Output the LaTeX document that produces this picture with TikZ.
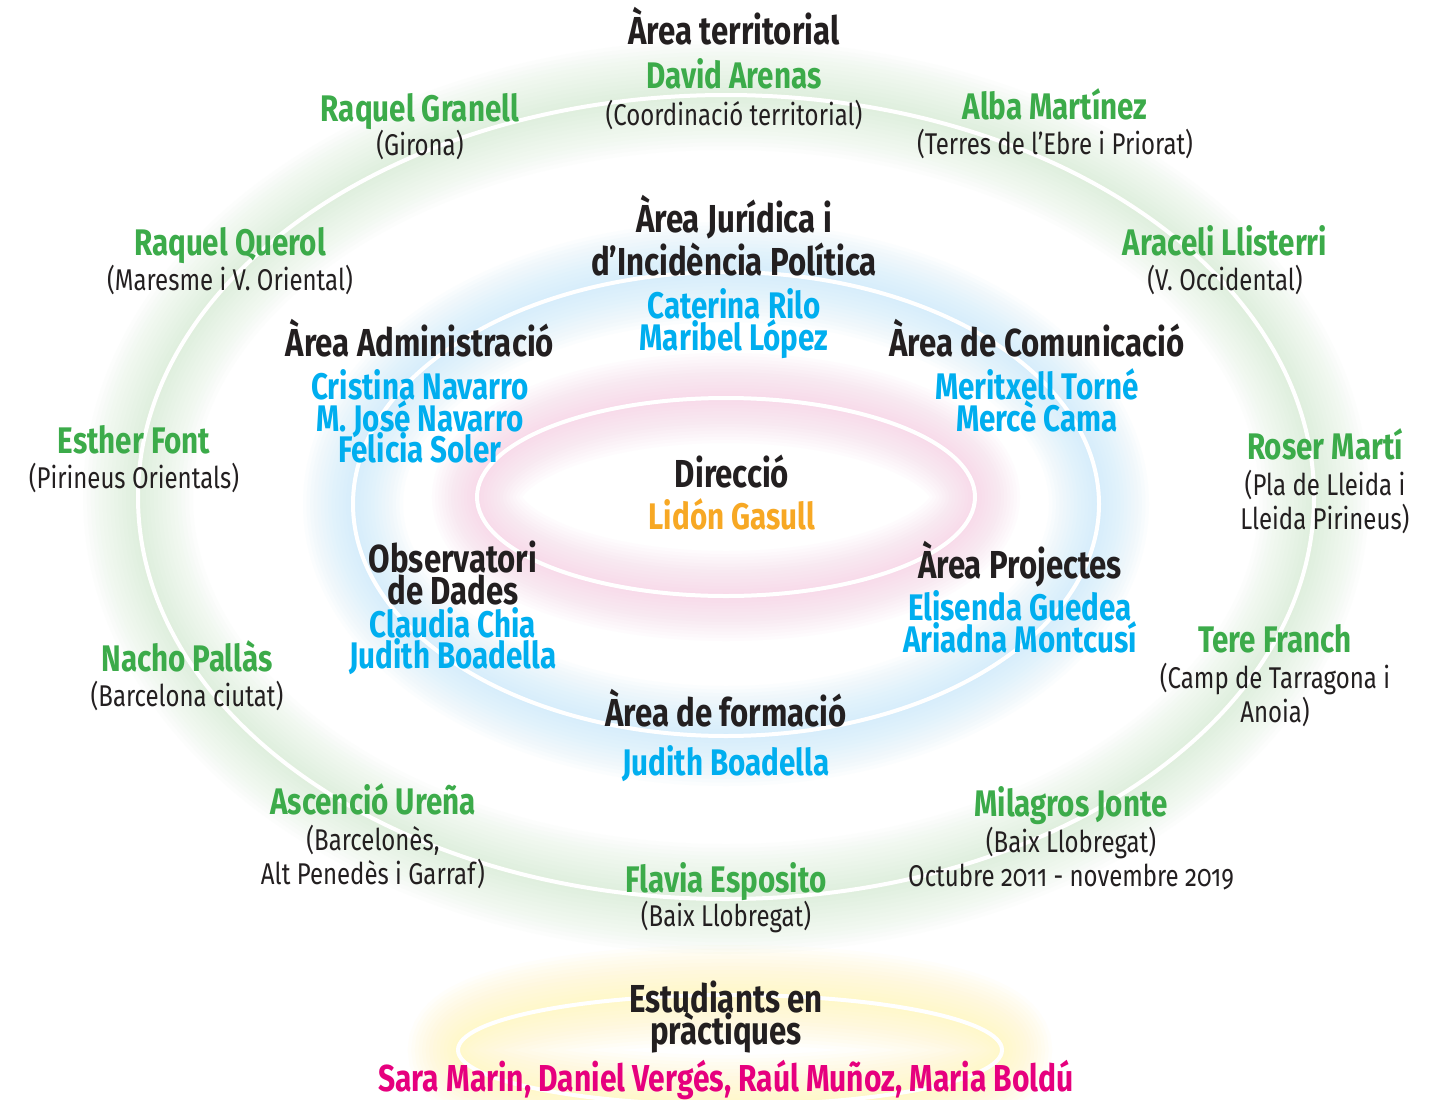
\documentclass[tikz,border=0pt]{standalone}
\usepackage{fontspec}
\setmainfont{Fira Sans}[FakeStretch=0.8, Numbers=OldStyle]
\definecolor{tgreen}{RGB}{60,171,74}
\definecolor{tblue}{RGB}{0,174,239}
\definecolor{torange}{RGB}{247,168,36}
\definecolor{tmag}{RGB}{230,0,126}
\definecolor{tblack}{RGB}{35,31,32}
\definecolor{gGreen}{RGB}{207,233,204}
\definecolor{gBlue}{RGB}{190,230,251}
\definecolor{gPink}{RGB}{248,197,223}
\definecolor{gYellow}{RGB}{255,248,168}
\tikzset{
  txt/.style={anchor=base, inner sep=0pt, align=center},
  head/.style={txt, font=\bfseries\fontsize{39}{39}\selectfont, text=tblack},
  gname/.style={txt, font=\bfseries\fontsize{37}{37}\selectfont, text=tgreen},
  bname/.style={txt, font=\bfseries\fontsize{37}{37}\selectfont, text=tblue},
  oname/.style={txt, font=\bfseries\fontsize{37}{37}\selectfont, text=torange},
  mname/.style={txt, font=\bfseries\fontsize{37.5}{37.5}\selectfont, text=tmag},
  sub/.style={txt, font=\fontsize{30}{30}\selectfont, text=tblack},
  ring/.style={draw=white, line width=4pt},
}
\newcommand\glowring[6]{%
  \foreach \w in {8,16,...,112}{%
    \draw[draw=#1, draw opacity=0.055, line width=\w pt*#6/56] (#2,#3) ellipse [x radius=#4pt, y radius=#5pt];
  }%
}
\begin{document}
\begin{tikzpicture}[x=1pt,y=-1pt]
\useasboundingbox (0,0) rectangle (1440,1100);
\fill[white] (0,0) rectangle (1440,1100);
% glows
\glowring{gGreen}{726}{497}{588}{402}{55}
\glowring{gBlue}{726}{504}{373}{232}{50}
\glowring{gPink}{726}{497}{249}{99}{45}
\glowring{gYellow}{730}{1050}{272}{55}{50}
% white rings
\draw[ring] (726,497) ellipse [x radius=588pt, y radius=402pt];
\draw[ring] (726,504) ellipse [x radius=373pt, y radius=232pt];
\draw[ring] (726,497) ellipse [x radius=249pt, y radius=99pt];
\draw[ring] (730,1050) ellipse [x radius=272pt, y radius=55pt];
% top
\node[head] (terr) at (734,44) {Àrea territorial};
\node[gname] (david) at (734,88) {David Arenas};
\node[sub] (davidr) at (734,125) {(Coordinació territorial)};
\node[gname] (granell) at (420,121) {Raquel Granell};
\node[sub] (granellr) at (420,155) {(Girona)};
\node[gname] (alba) at (1055,119) {Alba Martínez};
\node[sub] (albar) at (1055,154) {(Terres de l’Ebre i Priorat)};
\node[gname] (querol) at (230,255) {Raquel Querol};
\node[sub] (querolr) at (230,290) {(Maresme i V. Oriental)};
\node[gname] (araceli) at (1225,255) {Araceli Llisterri};
\node[sub] (aracelir) at (1225,290) {(V. Occidental)};
% juridica
\node[head] (jur1) at (734,232) {Àrea Jurídica i};
\node[head] (jur2) at (734,275) {d’Incidència Política};
\node[bname] (rilo) at (734,318) {Caterina Rilo};
\node[bname] (lopez) at (734,350) {Maribel López};
% administracio
\node[head] (adm) at (420,356) {Àrea Administració};
\node[bname] (cnav) at (420,399) {Cristina Navarro};
\node[bname] (mnav) at (420,431) {M. José Navarro};
\node[bname] (soler) at (420,462) {Felicia Soler};
% comunicacio
\node[head] (com) at (1037,356) {Àrea de Comunicació};
\node[bname] (torne) at (1037,399) {Meritxell Torné};
\node[bname] (cama) at (1037,431) {Mercè Cama};
% left / right
\node[gname] (esther) at (134,453) {Esther Font};
\node[sub] (estherr) at (134,488) {(Pirineus Orientals)};
\node[gname] (roser) at (1325,459) {Roser Martí};
\node[sub] (roserr1) at (1325,495) {(Pla de Lleida i};
\node[sub] (roserr2) at (1325,529) {Lleida Pirineus)};
% direccio
\node[head] (dir) at (732,487) {Direcció};
\node[oname] (gasull) at (732,529) {Lidón Gasull};
% observatori
\node[head] (obs1) at (453,572) {Observatori};
\node[head] (obs2) at (453,604) {de Dades};
\node[bname] (chia) at (453,637) {Claudia Chia};
\node[bname] (boad1) at (453,668) {Judith Boadella};
% projectes
\node[head] (proj) at (1020,578) {Àrea Projectes};
\node[bname] (guedea) at (1020,620) {Elisenda Guedea};
\node[bname] (montcusi) at (1020,652) {Ariadna Montcusí};
\node[gname] (tere) at (1275,652) {Tere Franch};
\node[sub] (terer1) at (1275,688) {(Camp de Tarragona i};
\node[sub] (terer2) at (1275,722) {Anoia)};
\node[gname] (nacho) at (187,671) {Nacho Pallàs};
\node[sub] (nachor) at (187,706) {(Barcelona ciutat)};
% formacio
\node[head] (form) at (726,726) {Àrea de formació};
\node[bname] (boad2) at (726,775) {Judith Boadella};
% bottom ring
\node[gname] (urena) at (373,814) {Ascenció Ureña};
\node[sub] (urenar1) at (373,850) {(Barcelonès,};
\node[sub] (urenar2) at (373,884) {Alt Penedès i Garraf)};
\node[gname] (jonte) at (1071,816) {Milagros Jonte};
\node[sub] (jonter1) at (1071,852) {(Baix Llobregat)};
\node[sub] (jonter2) at (1071,886) {Octubre 2011 - novembre 2019};
\node[gname] (flavia) at (726,892) {Flavia Esposito};
\node[sub] (flaviar) at (726,926) {(Baix Llobregat)};
% estudiants
\node[head] (est1) at (726,1012) {Estudiants en};
\node[head] (est2) at (726,1044) {pràctiques};
\node[mname] (students) at (726,1091) {Sara Marin, Daniel Vergés, Raúl Muñoz, Maria Boldú};
\end{tikzpicture}
\end{document}
